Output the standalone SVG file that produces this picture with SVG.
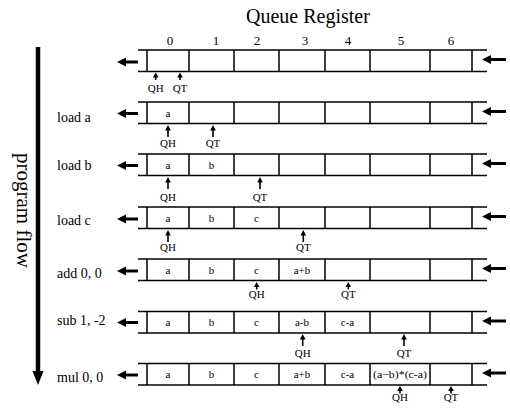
<svg xmlns="http://www.w3.org/2000/svg" width="510" height="410" viewBox="0 0 510 410">
<style>
text{font-family:"Liberation Serif","Times New Roman",serif;fill:#000}
.title{font-size:20px}
.col{font-size:13px;text-anchor:middle}
.op{font-size:14px}
.flow{font-size:21px}
.cell{font-size:11px;text-anchor:middle}
.ptr{font-size:11px;text-anchor:middle}
</style>
<defs>
<g id="larr"><polygon points="0,0 9,-4.5 9,4.5" fill="#000"/><line x1="8" y1="0" x2="21" y2="0" stroke="#000" stroke-width="3"/></g>
<g id="rarr"><polygon points="0,0 9,-4.5 9,4.5" fill="#000"/><line x1="8" y1="0" x2="24" y2="0" stroke="#000" stroke-width="3"/></g>
<g id="ptrS"><polygon points="0,0 -2.8,5 2.8,5" fill="#000"/><line x1="0" y1="4" x2="0" y2="7.5" stroke="#000" stroke-width="1.6"/></g>
<g id="ptrL"><polygon points="0,0 -2.8,5.5 2.8,5.5" fill="#000"/><line x1="0" y1="4" x2="0" y2="12" stroke="#000" stroke-width="1.6"/></g>
<g id="cells" stroke="#000" stroke-width="1.5">
<line x1="138" y1="0" x2="487" y2="0"/>
<line x1="138" y1="21.5" x2="487" y2="21.5"/>
<line x1="147" y1="0" x2="147" y2="21.5"/>
<line x1="189" y1="0" x2="189" y2="21.5"/>
<line x1="234" y1="0" x2="234" y2="21.5"/>
<line x1="279" y1="0" x2="279" y2="21.5"/>
<line x1="325" y1="0" x2="325" y2="21.5"/>
<line x1="370" y1="0" x2="370" y2="21.5"/>
<line x1="430" y1="0" x2="430" y2="21.5"/>
<line x1="472" y1="0" x2="472" y2="21.5"/>
</g>
</defs>

<g id="header">
<text class="title" x="246" y="23">Queue Register</text>
<text class="col" x="170" y="45">0</text>
<text class="col" x="216" y="45">1</text>
<text class="col" x="257" y="45">2</text>
<text class="col" x="305" y="45">3</text>
<text class="col" x="348" y="45">4</text>
<text class="col" x="401" y="45">5</text>
<text class="col" x="451" y="45">6</text>
</g>

<g id="flow">
<line x1="38" y1="47" x2="38" y2="374" stroke="#000" stroke-width="4.5"/>
<polygon points="32.5,371 43.5,371 38,385" fill="#000"/>
<text class="flow" transform="translate(16.5,153) rotate(90)">program flow</text>
</g>

<g id="row0">
<use href="#cells" transform="translate(0,50)"/>
<use href="#larr" transform="translate(117,62)"/>
<use href="#rarr" transform="translate(482,59.5)"/>
</g>
<g id="row1">
<text class="op" x="57" y="121.5">load a</text>
<use href="#cells" transform="translate(0,102)"/>
<use href="#larr" transform="translate(117,113.5)"/>
<use href="#rarr" transform="translate(482,111.5)"/>
<text class="cell" x="168" y="116.5">a</text>
</g>
<g id="row2">
<text class="op" x="57" y="170">load b</text>
<use href="#cells" transform="translate(0,154)"/>
<use href="#larr" transform="translate(117,165.5)"/>
<use href="#rarr" transform="translate(482,163.5)"/>
<text class="cell" x="168" y="168.5">a</text>
<text class="cell" x="211.5" y="168.5">b</text>
</g>
<g id="row3">
<text class="op" x="57" y="225">load c</text>
<use href="#cells" transform="translate(0,207)"/>
<use href="#larr" transform="translate(117,219)"/>
<use href="#rarr" transform="translate(482,216.5)"/>
<text class="cell" x="168" y="221.5">a</text>
<text class="cell" x="211.5" y="221.5">b</text>
<text class="cell" x="256.5" y="221.5">c</text>
</g>
<g id="row4">
<text class="op" x="57" y="278">add 0, 0</text>
<use href="#cells" transform="translate(0,259)"/>
<use href="#larr" transform="translate(117,271)"/>
<use href="#rarr" transform="translate(482,268.5)"/>
<text class="cell" x="168" y="273.5">a</text>
<text class="cell" x="211.5" y="273.5">b</text>
<text class="cell" x="256.5" y="273.5">c</text>
<text class="cell" x="302" y="273.5">a+b</text>
</g>
<g id="row5">
<text class="op" x="57" y="325">sub 1, -2</text>
<use href="#cells" transform="translate(0,311.5)"/>
<use href="#larr" transform="translate(117,322.5)"/>
<use href="#rarr" transform="translate(482,321)"/>
<text class="cell" x="168" y="326">a</text>
<text class="cell" x="211.5" y="326">b</text>
<text class="cell" x="256.5" y="326">c</text>
<text class="cell" x="302" y="326">a-b</text>
<text class="cell" x="347.5" y="326">c-a</text>
</g>
<g id="row6">
<text class="op" x="57" y="381.5">mul 0, 0</text>
<use href="#cells" transform="translate(0,363.5)"/>
<use href="#larr" transform="translate(117,375)"/>
<use href="#rarr" transform="translate(482,373)"/>
<text class="cell" x="168" y="378">a</text>
<text class="cell" x="211.5" y="378">b</text>
<text class="cell" x="256.5" y="378">c</text>
<text class="cell" x="302" y="378">a+b</text>
<text class="cell" x="347.5" y="378">c-a</text>
<text class="cell" x="400" y="378" textLength="54" lengthAdjust="spacingAndGlyphs">(a−b)*(c-a)</text>
</g>

<g id="pointers">
<use href="#ptrS" transform="translate(155.7,72.5)"/><text class="ptr" x="155.7" y="92">QH</text>
<use href="#ptrS" transform="translate(180,72.5)"/><text class="ptr" x="180" y="92">QT</text>
<use href="#ptrL" transform="translate(168,125)"/><text class="ptr" x="168" y="147">QH</text>
<use href="#ptrL" transform="translate(213,125)"/><text class="ptr" x="213" y="147">QT</text>
<use href="#ptrL" transform="translate(168,177)"/><text class="ptr" x="168" y="200.5">QH</text>
<use href="#ptrL" transform="translate(260,177)"/><text class="ptr" x="260" y="200.5">QT</text>
<use href="#ptrL" transform="translate(168,230)"/><text class="ptr" x="168" y="251">QH</text>
<use href="#ptrL" transform="translate(303.3,230)"/><text class="ptr" x="303.3" y="251">QT</text>
<use href="#ptrS" transform="translate(256.7,282)"/><text class="ptr" x="256.7" y="297.5">QH</text>
<use href="#ptrS" transform="translate(348.3,282)"/><text class="ptr" x="348.3" y="297.5">QT</text>
<use href="#ptrL" transform="translate(302.7,334)"/><text class="ptr" x="302.7" y="356.5">QH</text>
<use href="#ptrL" transform="translate(404,334)"/><text class="ptr" x="404" y="356.5">QT</text>
<use href="#ptrS" transform="translate(400,386)"/><text class="ptr" x="400" y="401">QH</text>
<use href="#ptrS" transform="translate(451,386)"/><text class="ptr" x="451" y="401">QT</text>
</g>
</svg>
